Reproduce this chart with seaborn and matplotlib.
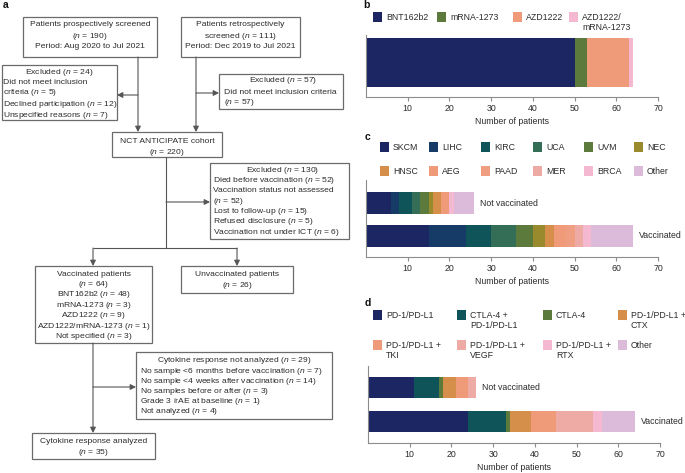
import matplotlib.pyplot as plt
import numpy as np
import seaborn as sns
from matplotlib.patches import Rectangle

# ---- data ----
vaccine_labels = ["BNT162b2", "mRNA-1273", "AZD1222", "AZD1222/\nmRNA-1273"]
vaccine_counts = [50, 3, 10, 1]
vaccine_colors = ["#1b2663", "#5c7a3c", "#ef9a78", "#f4b8d0"]

groups = ["Not vaccinated", "Vaccinated"]

tumor_labels = ["SKCM", "LIHC", "KIRC", "UCA", "UVM", "NEC",
                "HNSC", "AEG", "PAAD", "MER", "BRCA", "Other"]
tumor_not_vacc = [6, 2, 3, 2, 2, 1, 2, 2, 0, 0, 1, 5]
tumor_vacc = [15, 9, 6, 6, 4, 3, 2, 3, 2, 2, 2, 10]
tumor_colors = ["#1b2663", "#153b66", "#0e5459", "#356e57", "#5c7a3c", "#9a8a2e",
                "#d68f4a", "#ef9a78", "#ef9e82", "#eeaaa5", "#f4b8d0", "#dcbbda"]

icb_labels = ["PD-1/PD-L1", "CTLA-4 +\nPD-1/PD-L1", "CTLA-4", "PD-1/PD-L1 +\nCTX",
              "PD-1/PD-L1 +\nTKI", "PD-1/PD-L1 +\nVEGF", "PD-1/PD-L1 +\nRTX", "Other"]
icb_not_vacc = [11, 6, 1, 3, 3, 2, 0, 0]
icb_vacc = [24, 9, 1, 5, 6, 9, 2, 8]
icb_colors = ["#1b2663", "#0e5459", "#5c7a3c", "#d68f4a",
              "#ef9a78", "#eeaaa5", "#f4b8d0", "#dcbbda"]

# ---- style ----
sns.set_style("ticks")
plt.rcParams['font.family'] = ['Liberation Sans', 'DejaVu Sans']
plt.rcParams['mathtext.fontset'] = 'custom'
plt.rcParams['mathtext.rm'] = 'Liberation Sans'
plt.rcParams['mathtext.it'] = 'Liberation Sans:italic'

W, H = 685, 473
FS = 6.3
FS_A = 6.1
TXT = "#2b2b2b"
LINE = "#555555"
SPINE = "#8c8c8c"

fig = plt.figure(figsize=(6.85, 4.73), dpi=100)
bg = fig.add_axes([0, 0, 1, 1])
bg.set_xlim(0, W)
bg.set_ylim(H, 0)
bg.axis('off')


def box(x0, y0, x1, y1):
    bg.add_patch(Rectangle((x0, y0), x1 - x0, y1 - y0, fill=False, ec="#6b6b6b", lw=0.9))


def lines(x, ys, texts, ha='center'):
    for y, t in zip(ys, texts):
        bg.text(x, y, t, ha=ha, va='center', fontsize=FS_A, color=TXT)


def seg(x0, y0, x1, y1):
    bg.plot([x0, x1], [y0, y1], color=LINE, lw=0.8, solid_capstyle='butt')


def arrow(x0, y0, x1, y1):
    bg.annotate('', xy=(x1, y1), xytext=(x0, y0),
                arrowprops=dict(arrowstyle='-|>,head_length=0.55,head_width=0.28',
                                mutation_scale=6, color=LINE, lw=0.8,
                                shrinkA=0, shrinkB=0))


# ---- panel a: flowchart ----
bg.text(3, 5, "a", fontsize=7.5, fontweight='bold', va='center', color='#111')

box(23, 17, 157, 57)
lines(90, [25, 36, 47], ["Patients prospectively screened", "($n$ = 190)",
                         "Period: Aug 2020 to Jul 2021"])
box(181, 17, 300, 57)
lines(240.5, [25, 36, 47], ["Patients retrospectively", "screened ($n$ = 111)",
                            "Period: Dec 2019 to Jul 2021"])
arrow(138, 57, 138, 132)
arrow(196, 57, 196, 132)
arrow(138, 95, 117, 95)
arrow(196, 93, 219, 93)

box(2, 65, 117, 120)
lines(59, [72], ["Excluded ($n$ = 24)"])
lines(3.5, [83, 93, 104, 115], ["Did not meet inclusion", "criteria ($n$ = 5)",
                                "Declined participation ($n$ = 12)",
                                "Unspecified reasons ($n$ = 7)"], ha='left')
box(219, 74, 343, 109)
lines(283, [81], ["Excluded ($n$ = 57)"])
lines(224, [92, 102], ["Did not meet inclusion criteria", "($n$ = 57)"], ha='left')

box(112, 132, 222, 157)
lines(167, [141, 152], ["NCT ANTICIPATE cohort", "($n$ = 220)"])
seg(166, 157, 166, 248)
arrow(166, 202, 210, 202)

box(210, 163, 349, 239)
lines(283, [170], ["Excluded ($n$ = 130)"])
lines(213, [180, 190, 201, 211, 221, 232],
      ["Died before vaccination ($n$ = 52)", "Vaccination status not assessed",
       "($n$ = 52)", "Lost to follow-up ($n$ = 15)", "Refused disclosure ($n$ = 5)",
       "Vaccination not under ICT ($n$ = 6)"], ha='left')

seg(93, 248, 237, 248)
arrow(93, 248, 93, 266)
arrow(237, 248, 237, 266)

box(35, 266, 152, 343)
lines(93.5, [274, 284, 294, 305, 315, 326, 336],
      ["Vaccinated patients", "($n$ = 64)", "BNT162b2 ($n$ = 48)", "mRNA-1273 ($n$ = 3)",
       "AZD1222 ($n$ = 9)", "AZD1222/mRNA-1273 ($n$ = 1)", "Not specified ($n$ = 3)"])
box(181, 266, 293, 293)
lines(237, [274, 285], ["Unvaccinated patients", "($n$ = 26)"])

arrow(93, 343, 93, 433)
arrow(93, 387, 136, 387)
box(136, 352, 332, 419)
lines(234, [360], ["Cytokine response not analyzed ($n$ = 29)"])
lines(140, [371, 381, 391, 401, 411],
      ["No sample <6 months before vaccination ($n$ = 7)",
       "No sample <4 weeks after vaccination ($n$ = 14)",
       "No samples before or after ($n$ = 3)",
       "Grade 3 irAE at baseline ($n$ = 1)",
       "Not analyzed ($n$ = 4)"], ha='left')
box(32, 433, 155, 459)
lines(93.5, [441, 452], ["Cytokine response analyzed", "($n$ = 35)"])


# ---- bar panels ----
def panel(l, t, r, b):
    return fig.add_axes([l / W, 1 - b / H, (r - l) / W, (b - t) / H])


def stacked(ax, names, table, colors, width):
    # overlay cumulative bars, longest first, to get stacked segments
    cum = np.cumsum(np.array(table), axis=1)
    for i in reversed(range(cum.shape[1])):
        sns.barplot(x=cum[:, i], y=names, color=colors[i], width=width,
                    saturation=1, orient='h', errorbar=None, linewidth=0, ax=ax)
    return cum[:, -1]


def style(ax, ylim):
    ax.set_xlim(0, 70)
    ax.set_xticks(range(10, 71, 10))
    ax.set_ylim(*ylim)
    ax.set_yticks([])
    ax.set_ylabel('')
    ax.set_xlabel('Number of patients', fontsize=FS, color=TXT, labelpad=3)
    sns.despine(ax=ax)
    for s in ['left', 'bottom']:
        ax.spines[s].set_color(SPINE)
        ax.spines[s].set_linewidth(0.8)
    ax.tick_params(axis='x', length=3, width=0.8, color=SPINE,
                   labelsize=FS, labelcolor=TXT, pad=2)
    ax.patch.set_alpha(0)


def legend(xs, ys, labels, colors, ncol):
    for k, (lab, c) in enumerate(zip(labels, colors)):
        x, y = xs[k % ncol], ys[k // ncol]
        bg.add_patch(Rectangle((x, y - 4.75), 9.5, 9.5, color=c, lw=0))
        for j, part in enumerate(lab.split('\n')):
            bg.text(x + 13, y + j * 10.3, part, va='center', fontsize=FS, color=TXT)


# panel b
bg.text(363, 5, "b", fontsize=7.5, fontweight='bold', va='center', color='#111')
legend([373, 437, 513, 569], [17], vaccine_labels, vaccine_colors, 4)
ax_b = panel(366, 35, 658, 97)
stacked(ax_b, ["Vaccinated"], [vaccine_counts], vaccine_colors, 0.8)
style(ax_b, (0.563, -0.449))

# panel c
bg.text(365, 137, "c", fontsize=7.5, fontweight='bold', va='center', color='#111')
legend([380, 429, 481, 533, 584, 634], [147, 171], tumor_labels, tumor_colors, 6)
ax_c = panel(366, 180, 658, 257)
tot_c = stacked(ax_c, groups, [tumor_not_vacc, tumor_vacc], tumor_colors, 0.67)
style(ax_c, (1.64, -0.70))
for i, g in enumerate(groups):
    ax_c.text(tot_c[i] + 1.4, i, g, va='center', fontsize=FS, color=TXT)

# panel d
bg.text(365, 303, "d", fontsize=7.5, fontweight='bold', va='center', color='#111')
legend([373, 457, 543, 618], [315, 345], icb_labels, icb_colors, 4)
ax_d = panel(368, 366, 660, 443)
tot_d = stacked(ax_d, groups, [icb_not_vacc, icb_vacc], icb_colors, 0.62)
style(ax_d, (1.63, -0.63))
for i, g in enumerate(groups):
    ax_d.text(tot_d[i] + 1.4, i, g, va='center', fontsize=FS, color=TXT)

fig.savefig("out.png", dpi=100)
